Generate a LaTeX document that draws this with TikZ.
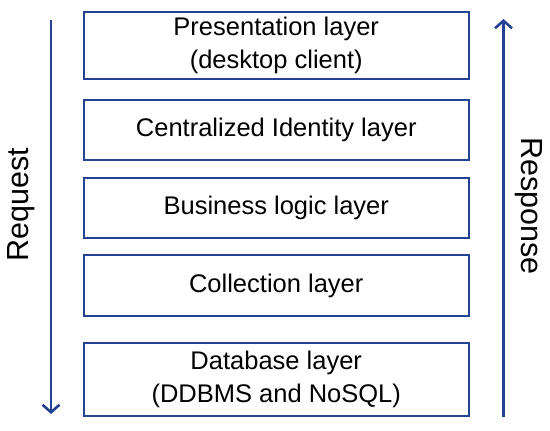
\documentclass[tikz,border=0pt]{standalone}
\usepackage{fontspec}
\setmainfont{Liberation Sans}
\usetikzlibrary{arrows.meta}
\definecolor{lineblue}{RGB}{36,66,148}
\tikzset{
  layerbox/.style={draw=lineblue, line width=2pt, rectangle, minimum width=385.5pt, align=center, inner sep=0pt, font=\fontsize{25.5}{33}\selectfont, text=black},
  flowarrow/.style={draw=lineblue, line width=2.6pt, -{Straight Barb[length=7.5pt,width=17pt,line width=2.6pt]}},
  sidelabel/.style={font=\fontsize{30.5}{36}\selectfont, text=black, inner sep=0pt}
}
\begin{document}
\begin{tikzpicture}[x=1pt,y=-1pt]
\useasboundingbox (0,0) rectangle (550,431);
\node[layerbox, minimum height=67.3pt] (pres) at (276.25,45.4) {Presentation layer\\(desktop client)};
\node[layerbox, minimum height=60pt] (ident) at (276.25,130) {Centralized Identity layer};
\node[layerbox, minimum height=60pt] (biz) at (276.25,208) {Business logic layer};
\node[layerbox, minimum height=61pt] (coll) at (276.25,285.5) {Collection layer};
\node[layerbox, minimum height=73pt] (db) at (276.25,379.5) {Database layer\\(DDBMS and NoSQL)};
\coordinate (reqTop) at (51,20);
\coordinate (reqBot) at (51,414);
\coordinate (resBot) at (503.5,417);
\coordinate (resTop) at (503.5,19);
\draw[flowarrow] (reqTop) -- (reqBot);
\draw[flowarrow] (resBot) -- (resTop);
\node[sidelabel, rotate=90] (req) at (21,205) {Request};
\node[sidelabel, rotate=-90] (res) at (529,206) {Response};
\end{tikzpicture}
\end{document}
